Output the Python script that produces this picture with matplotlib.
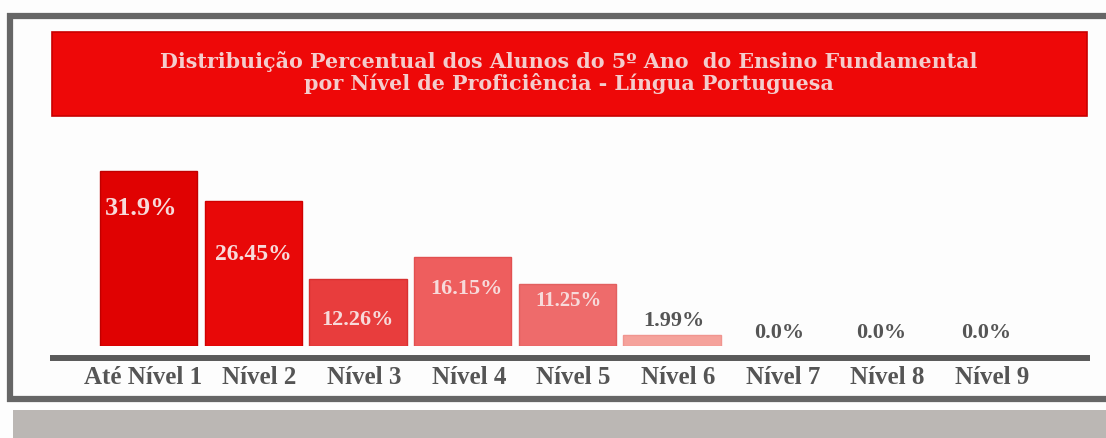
import matplotlib
matplotlib.use('Agg')
import matplotlib.pyplot as plt
from matplotlib.patches import Rectangle
from matplotlib.lines import Line2D

# ---------------- data ----------------
categories = ['Até Nível 1', 'Nível 2', 'Nível 3', 'Nível 4', 'Nível 5',
              'Nível 6', 'Nível 7', 'Nível 8', 'Nível 9']
values = [31.9, 26.45, 12.26, 16.15, 11.25, 1.99, 0.0, 0.0, 0.0]
value_labels = ['31.9%', '26.45%', '12.26%', '16.15%', '11.25%', '1.99%',
                '0.0%', '0.0%', '0.0%']
title_lines = ['Distribuição Percentual dos Alunos do 5º Ano  do Ensino Fundamental',
               'por Nível de Proficiência - Língua Portuguesa']

# ---------------- style ----------------
bar_colors = ['#e00202', '#e80808', '#e83d3d', '#ee5e5e', '#ee6b6b', '#f5a29b',
              '#ffffff', '#ffffff', '#ffffff']
bar_edges = ['#c00000', '#d00000', '#d83030', '#e25050', '#e26060', '#f09590',
             'none', 'none', 'none']
label_colors = ['#f7dada', '#f7dada', '#f7dada', '#f7dada', '#f7dada',
                '#555555', '#555555', '#555555', '#555555']
label_dy_px = [-37, -53, -40, -31, -16, 15, 14, 14, 14]   # offset from bar top
label_dx_px = [-7, 0, 0, 4, 1, 2, 3, 0, 0]
label_sizes = [19, 17, 16, 16, 15, 16, 16, 16, 16]

W, H = 1106, 439
fig = plt.figure(figsize=(W / 100, H / 100), dpi=100)
fig.patch.set_facecolor('#fdfdfd')

def fx(px):
    return px / W

def fy(py):
    return 1 - py / H

SERIF = ['Liberation Serif', 'DejaVu Serif']

# outer frame
frame_c = '#666666'
fig.add_artist(Line2D([fx(7), fx(1106)], [fy(17), fy(17)], color=frame_c, lw=4.5,
                      transform=fig.transFigure, solid_capstyle='butt'))
fig.add_artist(Line2D([fx(10), fx(10)], [fy(14), fy(403)], color=frame_c, lw=4.5,
                      transform=fig.transFigure, solid_capstyle='butt'))
fig.add_artist(Line2D([fx(7), fx(1106)], [fy(400), fy(400)], color=frame_c, lw=4.5,
                      transform=fig.transFigure, solid_capstyle='butt'))
# bottom gray band
fig.add_artist(Rectangle((fx(13), 0), fx(1106) - fx(13), fy(411), transform=fig.transFigure,
                         facecolor='#bbb7b4', edgecolor='none'))

# title banner
fig.add_artist(Rectangle((fx(52), fy(117)), fx(1087) - fx(52), (117 - 33) / H,
                         transform=fig.transFigure, facecolor='#ee0808',
                         edgecolor='#c80000', lw=1.2))
fig.text(fx(569), fy(62), title_lines[0], ha='center', va='center', color='#f4cccc',
         fontsize=14.9, family=['DejaVu Serif'], fontweight='bold')
fig.text(fx(569), fy(84), title_lines[1], ha='center', va='center', color='#f4cccc',
         fontsize=14.9, family=['DejaVu Serif'], fontweight='bold')

# bar axes
ax_left, ax_right, ax_bottom, ax_top = 50, 1090, 347, 150
px_per_unit = 5.5
ax = fig.add_axes([fx(ax_left), fy(ax_bottom), fx(ax_right) - fx(ax_left),
                   (ax_bottom - ax_top) / H])
ax.set_xlim(-0.941, 8.993)
ax.set_ylim(0, (ax_bottom - ax_top) / px_per_unit)
ax.axis('off')

x = list(range(len(categories)))
ax.bar(x, values, width=0.93, color=bar_colors, edgecolor=bar_edges, linewidth=1.0)

for i, (v, lab) in enumerate(zip(values, value_labels)):
    ax.annotate(lab, (x[i], v), xytext=(label_dx_px[i] * 0.72, label_dy_px[i] * 0.72),
                textcoords='offset points', ha='center', va='center',
                color=label_colors[i], fontsize=label_sizes[i], fontweight='bold',
                family=SERIF)

# axis line
fig.add_artist(Line2D([fx(50), fx(1090)], [fy(359), fy(359)], color='#5a5a5a', lw=4.3,
                      transform=fig.transFigure, solid_capstyle='butt'))

# category labels
cat_y = (ax_bottom - 378) / (ax_bottom - ax_top)
for i, c in enumerate(categories):
    ax.text(x[i] + (-0.05 if i == 0 else 0.06), cat_y, c, transform=ax.get_xaxis_transform(),
            ha='center', va='center', color='#555555', fontsize=18, fontweight='bold',
            family=SERIF, clip_on=False)

fig.savefig('out.png', dpi=100, facecolor=fig.get_facecolor())
